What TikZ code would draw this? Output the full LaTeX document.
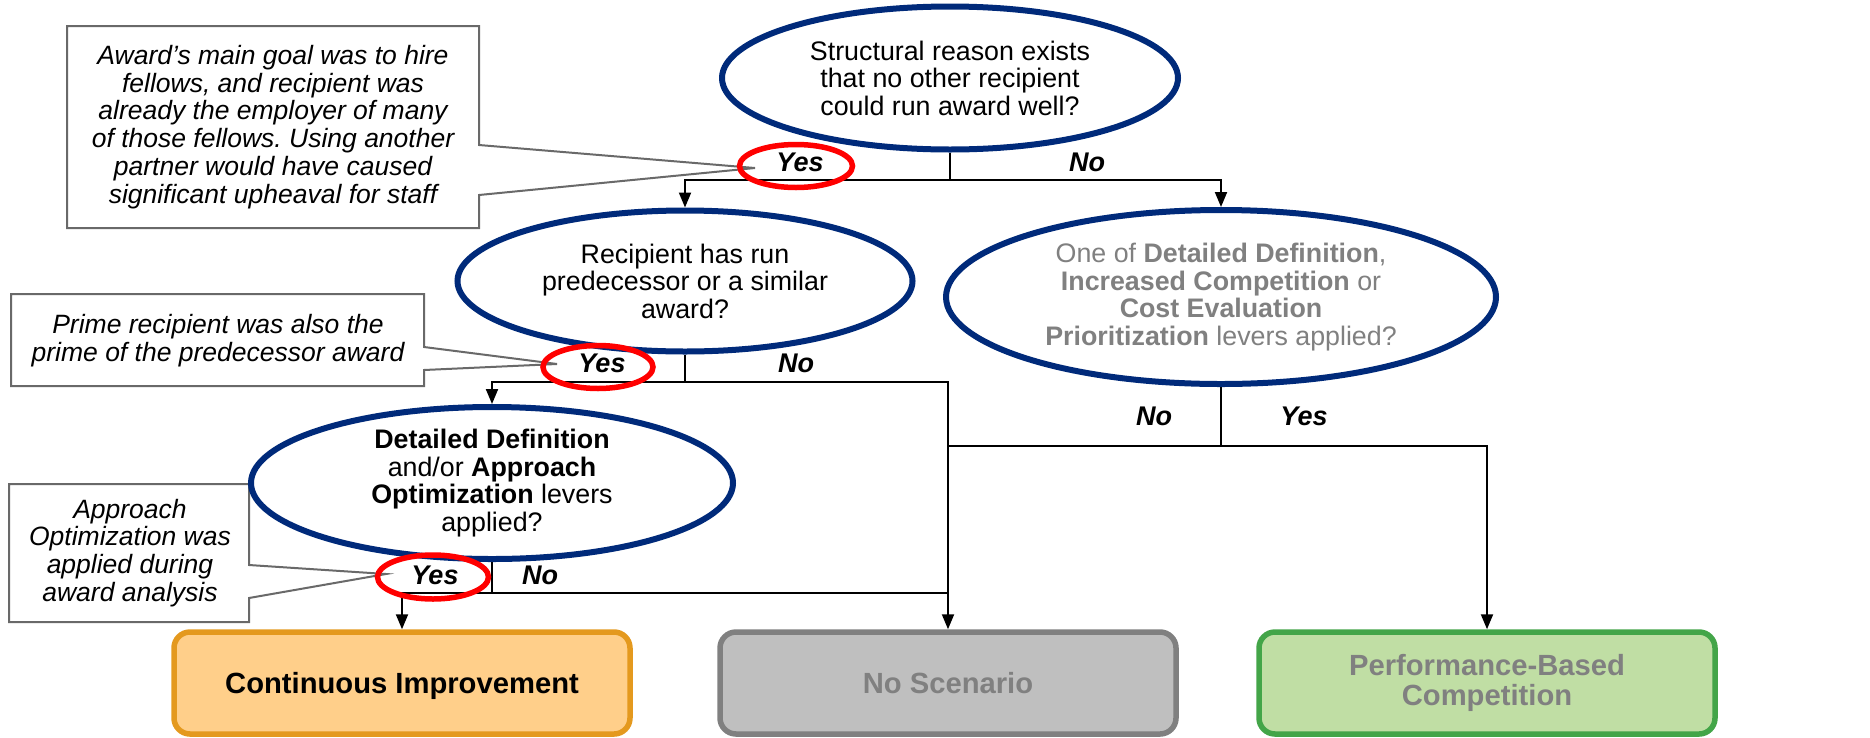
\documentclass[tikz,border=0pt]{standalone}
\usepackage{fontspec}
\setmainfont{Liberation Sans}
\usetikzlibrary{shapes.geometric,arrows.meta,calc}
\frenchspacing

\definecolor{navy}{RGB}{0,42,122}
\definecolor{ringred}{RGB}{255,0,0}
\definecolor{calloutgray}{RGB}{105,105,105}
\definecolor{softgray}{RGB}{128,128,128}
\definecolor{cifill}{RGB}{255,207,138}
\definecolor{ciedge}{RGB}{228,153,30}
\definecolor{nsfill}{RGB}{191,191,191}
\definecolor{nsedge}{RGB}{128,128,128}
\definecolor{pbfill}{RGB}{192,222,164}
\definecolor{pbedge}{RGB}{67,165,72}

\begin{document}
\begin{tikzpicture}[x=1pt,y=-1pt,
  question/.style={ellipse, draw=navy, line width=6pt, fill=white, inner sep=0pt,
    align=center, font=\fontsize{26.8}{27.5}\selectfont},
  ring/.style={ellipse, draw=ringred, line width=5.5pt, inner sep=0pt},
  branch/.style={font=\fontsize{27}{27}\selectfont\bfseries\itshape, inner sep=0pt},
  callouttext/.style={align=center, font=\fontsize{26.5}{27.8}\selectfont\itshape, inner sep=0pt},
  callout/.style={draw=calloutgray, line width=2pt, fill=white, line join=miter},
  outcome/.style={rectangle, rounded corners=16pt, line width=5.5pt, minimum width=456pt,
    minimum height=102pt, align=center, font=\fontsize{29.2}{30}\selectfont\bfseries, inner sep=0pt},
  link/.style={line width=2pt, draw=black},
  arrow/.style={link, -{Triangle[length=15pt,width=12pt]}},
]
\useasboundingbox (0,0) rectangle (1870,737);

% ---- callout boxes with pointers ----
\coordinate (tip1) at (755,168);
\coordinate (tip2) at (557,364);
\coordinate (tip3) at (386,574);
\draw[callout] (67,26) -- (479,26) -- (479,145) -- (tip1) -- (479,195) -- (479,228) -- (67,228) -- cycle;
\draw[callout] (11,294) -- (424,294) -- (424,347) -- (tip2) -- (424,370) -- (424,386) -- (11,386) -- cycle;
\draw[callout] (9,484) -- (249,484) -- (249,565) -- (tip3) -- (249,598) -- (249,622) -- (9,622) -- cycle;

\node[callouttext] (c1) at (273,127) {Award’s main goal was to hire\\fellows, and recipient was\\already the employer of many\\of those fellows. Using another\\partner would have caused\\significant upheaval for staff};
\node[callouttext] (c2) at (218,341) {Prime recipient was also the\\prime of the predecessor award};
\node[callouttext] (c3) at (130,553) {Approach\\Optimization was\\applied during\\award analysis};

% ---- decision ellipses ----
\node[question, minimum width=456pt, minimum height=143pt] (q1) at (950,78)
  {Structural reason exists\\that no other recipient\\could run award well?};
\node[question, minimum width=455pt, minimum height=141pt] (q2) at (685,281)
  {Recipient has run\\predecessor or a similar\\award?};
\node[question, minimum width=550pt, minimum height=174pt, text=softgray] (q3) at (1221,297)
  {One of \textbf{Detailed Definition},\\\textbf{Increased Competition} or\\\textbf{Cost Evaluation}\\\textbf{Prioritization} levers applied?};
\node[question, minimum width=482pt, minimum height=135pt] (q4) at (492,483)
  {\textbf{Detailed Definition}\\and/or \textbf{Approach}\\\textbf{Optimization} levers\\applied?};

% ---- outcomes ----
\node[outcome, fill=cifill, draw=ciedge, text depth=0pt] (ci) at (402,683) {Continuous Improvement};
\node[outcome, fill=nsfill, draw=nsedge, text=softgray] (ns) at (948,683) {No Scenario};
\node[outcome, fill=pbfill, draw=pbedge, text=softgray] (pbc) at (1487,683) {Performance-Based\\Competition};

% ---- connectors ----
\coordinate (j1) at (950,180);
\coordinate (j2) at (685,382);
\coordinate (j3) at (1221,446);
\coordinate (j4) at (492,593);
\draw[link] (q1.south) -- (j1);
\draw[arrow] (j1) -| (q2.north);
\draw[arrow] (j1) -| (q3.north);
\draw[link] (q2.south) -- (j2);
\draw[arrow] (j2) -| (q4.north);
\draw[arrow] (j2) -| (ns.north);
\draw[link] (q3.south) -- (j3);
\draw[link] (j3) -- (j3 -| ns.north);
\draw[arrow] (j3) -| (pbc.north);
\draw[link] (q4.south) -- (j4);
\draw[arrow] (j4) -| (ci.north);
\draw[link] (j4) -- (j4 -| ns.north);

% ---- answer marks ----
\node[ring, minimum width=113pt, minimum height=43pt] (r1) at (796,166) {};
\node[ring, minimum width=110pt, minimum height=43pt] (r2) at (598,367) {};
\node[ring, minimum width=111pt, minimum height=44pt] (r3) at (433,577) {};

\node[branch] (yes1) at (800,162) {Yes};
\node[branch] (no1) at (1087,162) {No};
\node[branch] (yes2) at (602,363) {Yes};
\node[branch] (no2) at (796,363) {No};
\node[branch] (yes3) at (435,575) {Yes};
\node[branch] (no3) at (540,575) {No};
\node[branch] (no4) at (1154,416) {No};
\node[branch] (yes4) at (1304,416) {Yes};
\end{tikzpicture}
\end{document}
